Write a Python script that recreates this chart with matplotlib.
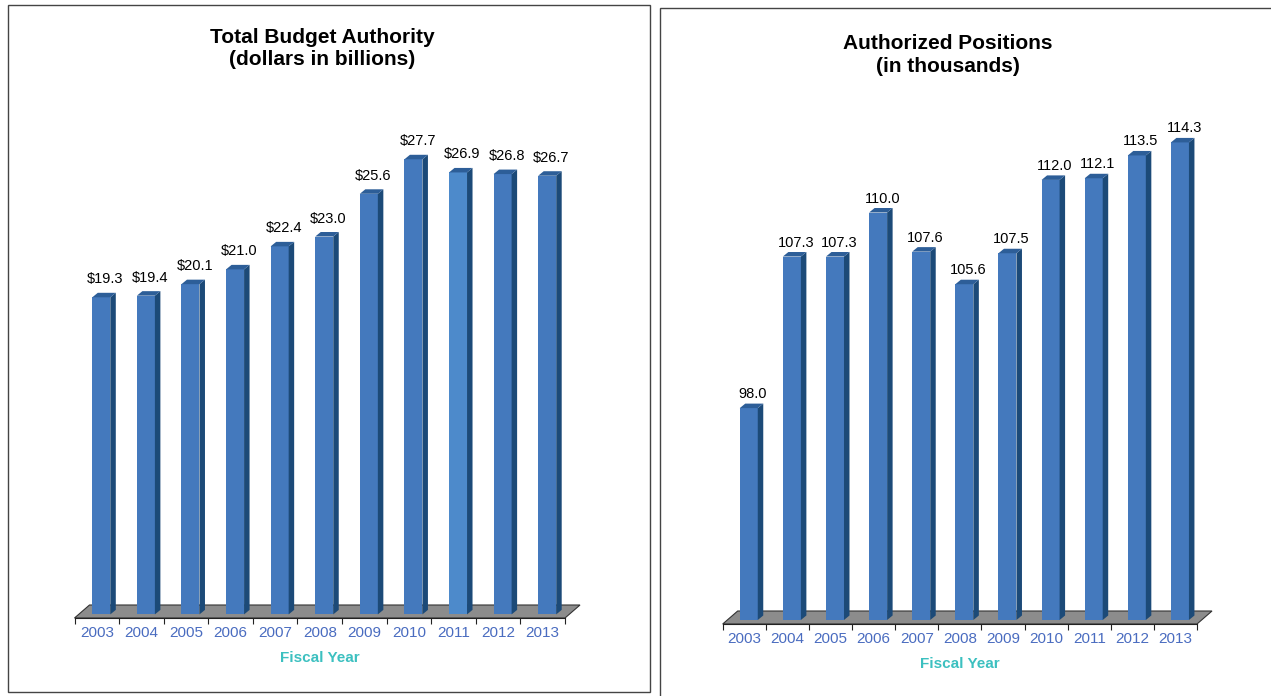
import matplotlib
matplotlib.use("Agg")
import matplotlib.pyplot as plt
from matplotlib.patches import Polygon, Rectangle
import numpy as np

plt.rcParams["font.family"] = ["Liberation Sans", "DejaVu Sans"]

years = ["2003", "2004", "2005", "2006", "2007", "2008", "2009", "2010", "2011", "2012", "2013"]
budget = [19.3, 19.4, 20.1, 21.0, 22.4, 23.0, 25.6, 27.7, 26.9, 26.8, 26.7]
positions = [98.0, 107.3, 107.3, 110.0, 107.6, 105.6, 107.5, 112.0, 112.1, 113.5, 114.3]

W, H = 1271, 696
FRONT = "#4479bd"
FRONT_LIGHT = "#4d8acb"
SIDE = "#1c4a78"
TOP = "#2d5e98"
TICK_BLUE = "#4a6cc0"
TEAL = "#3cc0c0"

fig = plt.figure(figsize=(W / 100, H / 100), dpi=100)


def px_axes(x0, x1, ytop, ybot):
    # pixel box (top-left origin) -> figure fraction axes
    return fig.add_axes([x0 / W, 1 - ybot / H, (x1 - x0) / W, (ybot - ytop) / H])


def bar_chart(x0, x1, ytop, floor_front, base_px, base_val, ppy, values, fmt,
              label_gap, light=None):
    n = len(values)
    ax = px_axes(x0, x1, ytop, floor_front)
    ppx = (x1 - x0) / n
    ymin = base_val - (floor_front - base_px) / ppy
    ymax = ymin + (floor_front - ytop) / ppy
    ax.set_xlim(-0.5, n - 0.5)
    ax.set_ylim(ymin, ymax)

    # floor
    fdx, fdy = 15 / ppx, 13 / ppy
    floor = Polygon([(-0.5, ymin), (n - 0.5, ymin), (n - 0.5 + fdx, ymin + fdy),
                     (-0.5 + fdx, ymin + fdy)], closed=True, facecolor="#8c8c8c",
                    edgecolor="#333333", lw=0.8, clip_on=False, zorder=1)
    ax.add_patch(floor)

    shift = 4.5 / ppx
    bw = 18 / ppx
    dx, dy = 5.5 / ppx, 4.5 / ppy
    xs = np.arange(n) + shift
    colors = [FRONT] * n
    if light is not None:
        colors[light] = FRONT_LIGHT
    ax.bar(xs, np.array(values) - base_val, bottom=base_val, width=bw,
           color=colors, edgecolor="none", zorder=3)
    for x, v in zip(xs, values):
        r = x + bw / 2
        l = x - bw / 2
        ax.add_patch(Polygon([(r, base_val), (r + dx, base_val + dy), (r + dx, v + dy), (r, v)],
                             closed=True, facecolor=SIDE, edgecolor="none", zorder=3))
        ax.add_patch(Polygon([(l, v), (l + dx, v + dy), (r + dx, v + dy), (r, v)],
                             closed=True, facecolor=TOP, edgecolor="none", zorder=3))
        ax.annotate(fmt.format(v), (x, v), xytext=(3, label_gap * 0.72),
                    textcoords="offset points", ha="center", va="baseline",
                    fontsize=10.5, color="black")

    for s in ["top", "right", "left"]:
        ax.spines[s].set_visible(False)
    ax.spines["bottom"].set_color("#222222")
    ax.spines["bottom"].set_linewidth(0.8)
    ax.set_yticks([])
    ax.set_xticks(np.arange(n + 1) - 0.5)
    ax.set_xticklabels([])
    ax.tick_params(axis="x", which="major", length=4, width=0.8, color="#222222")
    ax.set_xticks(np.arange(n), minor=True)
    ax.set_xticklabels(years, minor=True, fontsize=11, color=TICK_BLUE)
    ax.tick_params(axis="x", which="minor", length=0, pad=6)
    ax.set_xlabel("Fiscal Year", fontsize=11, fontweight="bold", color=TEAL, labelpad=8)
    ax.patch.set_visible(False)
    return ax


bar_chart(74.5, 565, 90, 618, 614.4, 0.0, 16.43, budget, "${:.1f}", 14, light=8)
bar_chart(722.7, 1197, 100, 624, 620, 85.0, 16.3, positions, "{:.1f}", 10)

fig.text(322 / W, 1 - 48.5 / H, "Total Budget Authority\n(dollars in billions)",
         ha="center", va="center", fontsize=15, fontweight="bold", linespacing=1.25)
fig.text(948 / W, 1 - 55 / H, "Authorized Positions\n(in thousands)",
         ha="center", va="center", fontsize=15, fontweight="bold", linespacing=1.25)

# panel frames
fig.patches.append(Rectangle((8 / W, 1 - 692 / H), 642 / W, 687 / H, transform=fig.transFigure,
                             fill=False, edgecolor="#444444", lw=1))
fig.patches.append(Rectangle((660 / W, -0.05), 0.6, 1 - 8 / H + 0.05, transform=fig.transFigure,
                             fill=False, edgecolor="#444444", lw=1))

fig.savefig("out.png", dpi=100)
